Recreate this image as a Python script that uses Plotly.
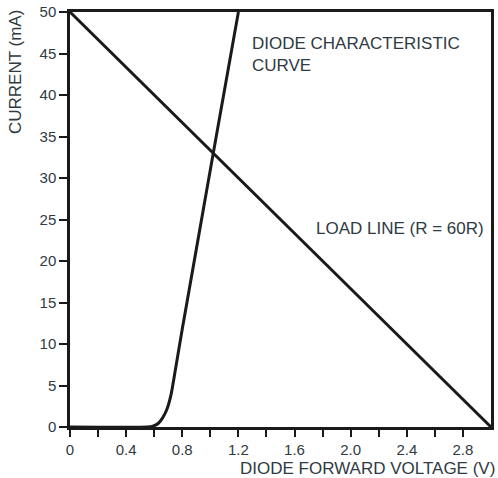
import plotly.graph_objects as go

# Diode characteristic curve (V, mA)
diode_v = [0.0, 0.55, 0.59, 0.63, 0.66, 0.69, 0.72, 0.75, 0.80, 0.90, 1.00, 1.10, 1.20]
diode_i = [0.0, 0.0, 0.1, 0.45, 1.1, 2.1, 3.9, 6.8, 11.8, 21.4, 31.0, 40.5, 50.0]

# Load line R = 60 ohm, supply 3.0 V
load_v = [0.0, 3.0]
load_i = [50.0, 0.0]

x_tick_text = ["0", "0.4", "0.8", "1.2", "1.6", "2.0", "2.4", "2.8"]
y_tick_vals = [0, 5, 10, 15, 20, 25, 30, 35, 40, 45, 50]

ink = "#1a1a1a"
txt = "#2f3a42"
font = "Liberation Sans, Arial, sans-serif"

fig = go.Figure()
fig.add_trace(go.Scatter(x=load_v, y=load_i, mode="lines",
                         line=dict(color=ink, width=3), hoverinfo="skip"))
fig.add_trace(go.Scatter(x=diode_v, y=diode_i, mode="lines",
                         line=dict(color=ink, width=3, shape="spline", smoothing=0.5),
                         hoverinfo="skip"))

fig.update_layout(
    width=498, height=478,
    margin=dict(l=70, r=7, t=12, b=51, autoexpand=False),
    paper_bgcolor="white", plot_bgcolor="white",
    showlegend=False,
    font=dict(family=font, size=15, color=txt),
    xaxis=dict(range=[0, 3.0], showgrid=False, zeroline=False, automargin=False,
               showline=True, linecolor=ink, linewidth=2.5, mirror=True,
               ticks="outside", ticklen=7, tickwidth=2, tickcolor=ink,
               tickvals=[i * 0.2 for i in range(15)],
               ticktext=[x_tick_text[i // 2] if i % 2 == 0 else "" for i in range(15)],
               ticklabeloverflow="allow",
               tickfont=dict(family=font, size=15, color=txt)),
    yaxis=dict(range=[0, 50], showgrid=False, zeroline=False, automargin=False,
               showline=True, linecolor=ink, linewidth=2.5, mirror=True,
               ticks="outside", ticklen=8, tickwidth=2, tickcolor=ink,
               tickvals=y_tick_vals,
               ticklabeloverflow="allow",
               tickfont=dict(family=font, size=15, color=txt)),
)

fig.add_annotation(text="DIODE CHARACTERISTIC<br>CURVE", x=1.28, y=44.9,
                   xref="x", yref="y", xanchor="left", yanchor="middle",
                   showarrow=False, align="left",
                   font=dict(family=font, size=17, color=txt))
fig.add_annotation(text="LOAD LINE (R = 60R)", x=1.74, y=23.9,
                   xref="x", yref="y", xanchor="left", yanchor="middle",
                   showarrow=False, font=dict(family=font, size=17, color=txt))
fig.add_annotation(text="DIODE FORWARD VOLTAGE (V)", x=1.0154, y=-0.1,
                   xref="paper", yref="paper", xanchor="right", yanchor="middle",
                   showarrow=False, font=dict(family=font, size=17, color=txt))
fig.add_annotation(text="CURRENT (mA)", x=0, xshift=-55, y=1.0096,
                   xref="paper", yref="paper", xanchor="center", yanchor="top",
                   textangle=-90, showarrow=False,
                   font=dict(family=font, size=17, color=txt))

fig.write_html("out.html", config={"displayModeBar": False},
               post_script="document.body.style.margin='0';")
